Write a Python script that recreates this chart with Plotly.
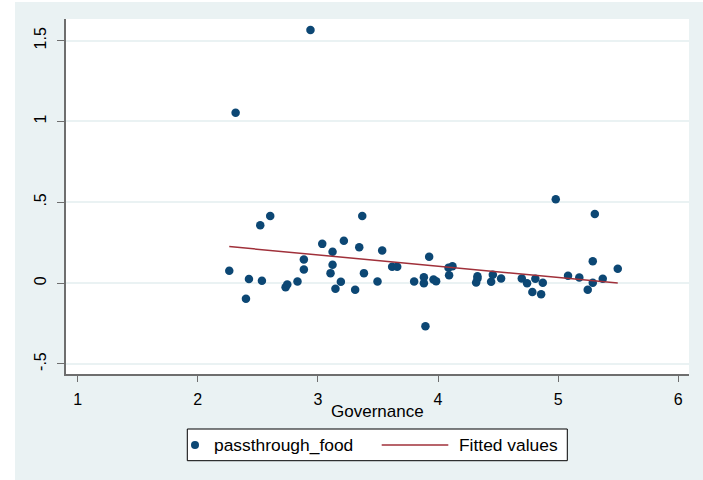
import plotly.graph_objects as go

# ---- data ----
governance = [2.262, 2.315, 2.401, 2.426, 2.520, 2.534, 2.603, 2.731, 2.745, 2.830,
              2.883, 2.883, 2.938, 3.036, 3.105, 3.122, 3.122, 3.146, 3.191, 3.216,
              3.310, 3.344, 3.369, 3.383, 3.496, 3.535, 3.618, 3.660, 3.801, 3.882,
              3.882, 3.895, 3.926, 3.962, 3.984, 4.087, 4.092, 4.120, 4.317, 4.328,
              4.328, 4.442, 4.456, 4.525, 4.697, 4.741, 4.785, 4.810, 4.858, 4.872,
              4.980, 5.082, 5.176, 5.246, 5.288, 5.288, 5.305, 5.371, 5.496]
passthrough_food = [0.077, 1.054, -0.096, 0.025, 0.358, 0.015, 0.416, -0.025, -0.008, 0.010,
                    0.146, 0.085, 1.566, 0.243, 0.062, 0.194, 0.114, -0.035, 0.009, 0.262,
                    -0.041, 0.222, 0.416, 0.062, 0.010, 0.202, 0.101, 0.101, 0.010, 0.037,
                    0.000, -0.267, 0.163, 0.023, 0.012, 0.095, 0.049, 0.105, 0.004, 0.029,
                    0.043, 0.009, 0.052, 0.029, 0.029, 0.000, -0.055, 0.027, -0.068, 0.002,
                    0.519, 0.046, 0.035, -0.041, 0.136, 0.002, 0.428, 0.027, 0.089]
fitted_x = [2.262, 5.496]
fitted_y = [0.226, 0.001]

x_tickvals = [1, 2, 3, 4, 5, 6]
x_ticktext = ["1", "2", "3", "4", "5", "6"]
y_tickvals = [-0.5, 0, 0.5, 1, 1.5]
y_ticktext = ["-.5", "0", ".5", "1", "1.5"]

x_title = "Governance"
legend_labels = ["passthrough_food", "Fitted values"]

# ---- styles ----
NAVY = "#0c4774"
MAROON = "#a0303a"
BG = "#eaf2f3"
AXIS = "#6e6e6e"
FONT = "Liberation Sans, Arial, sans-serif"

W, H = 703, 480
L, R, T, B = 66, 14, 19, 106
pw, ph = W - L - R, H - T - B


def px(xpix):
    return (xpix - L) / pw


def py(ypix):
    return (H - B - ypix) / ph


fig = go.Figure()
fig.add_trace(go.Scatter(x=governance, y=passthrough_food, mode="markers",
                         marker=dict(color=NAVY, size=8.5, line=dict(width=0)),
                         name=legend_labels[0], showlegend=False))
fig.add_trace(go.Scatter(x=fitted_x, y=fitted_y, mode="lines",
                         line=dict(color=MAROON, width=1.5),
                         name=legend_labels[1], showlegend=False))

shapes = [
    # white margin strips outside the light graph region
    dict(type="rect", xref="paper", yref="paper", x0=px(-5), x1=px(15), y0=py(490), y1=py(-5),
         fillcolor="white", line=dict(width=0), layer="below"),
    dict(type="rect", xref="paper", yref="paper", x0=px(-5), x1=px(710), y0=py(2), y1=py(-5),
         fillcolor="white", line=dict(width=0), layer="below"),
    # legend box
    dict(type="rect", xref="paper", yref="paper", x0=px(187.3), x1=px(567.3),
         y0=py(460.7), y1=py(429), fillcolor="white", line=dict(color="black", width=1)),
    dict(type="circle", xref="paper", yref="paper", x0=px(191), x1=px(199),
         y0=py(449), y1=py(441), fillcolor=NAVY, line=dict(width=0)),
    dict(type="line", xref="paper", yref="paper", x0=px(381.7), x1=px(448.3),
         y0=py(445), y1=py(445), line=dict(color=MAROON, width=1.5)),
]

annotations = [
    dict(text=x_title, xref="paper", yref="paper", x=0.5, y=py(411.7),
         xanchor="center", yanchor="middle", showarrow=False,
         font=dict(size=17, color="black", family=FONT)),
    dict(text=legend_labels[0], xref="paper", yref="paper", x=px(211.5), y=py(445),
         xanchor="left", yanchor="middle", showarrow=False,
         font=dict(size=17.4, color="black", family=FONT)),
    dict(text=legend_labels[1], xref="paper", yref="paper", x=px(457), y=py(445),
         xanchor="left", yanchor="middle", showarrow=False,
         font=dict(size=17.4, color="black", family=FONT)),
]

fig.update_layout(
    width=W, height=H,
    margin=dict(l=L, r=R, t=T, b=B, pad=0),
    paper_bgcolor=BG, plot_bgcolor="white",
    font=dict(family=FONT, size=15, color="black"),
    showlegend=False,
    shapes=shapes, annotations=annotations,
    xaxis=dict(range=[0.903, 6.089], tickvals=x_tickvals, ticktext=x_ticktext,
               showgrid=False, zeroline=False, showline=True, linecolor=AXIS, linewidth=1.5,
               ticks="outside", ticklen=6, tickcolor=AXIS, tickwidth=1,
               tickfont=dict(size=16), ticklabelstandoff=4),
    yaxis=dict(range=[-0.562, 1.634], tickvals=y_tickvals, ticktext=y_ticktext,
               showgrid=True, gridcolor=BG, gridwidth=1.5, zeroline=False,
               showline=True, linecolor=AXIS, linewidth=1.5,
               ticks="outside", ticklen=7, tickcolor=AXIS, tickwidth=1,
               tickangle=-90, tickfont=dict(size=16), ticklabelstandoff=5),
)

fig.write_html("out.html", config={"displayModeBar": False},
               post_script="document.body.style.margin='0';")
